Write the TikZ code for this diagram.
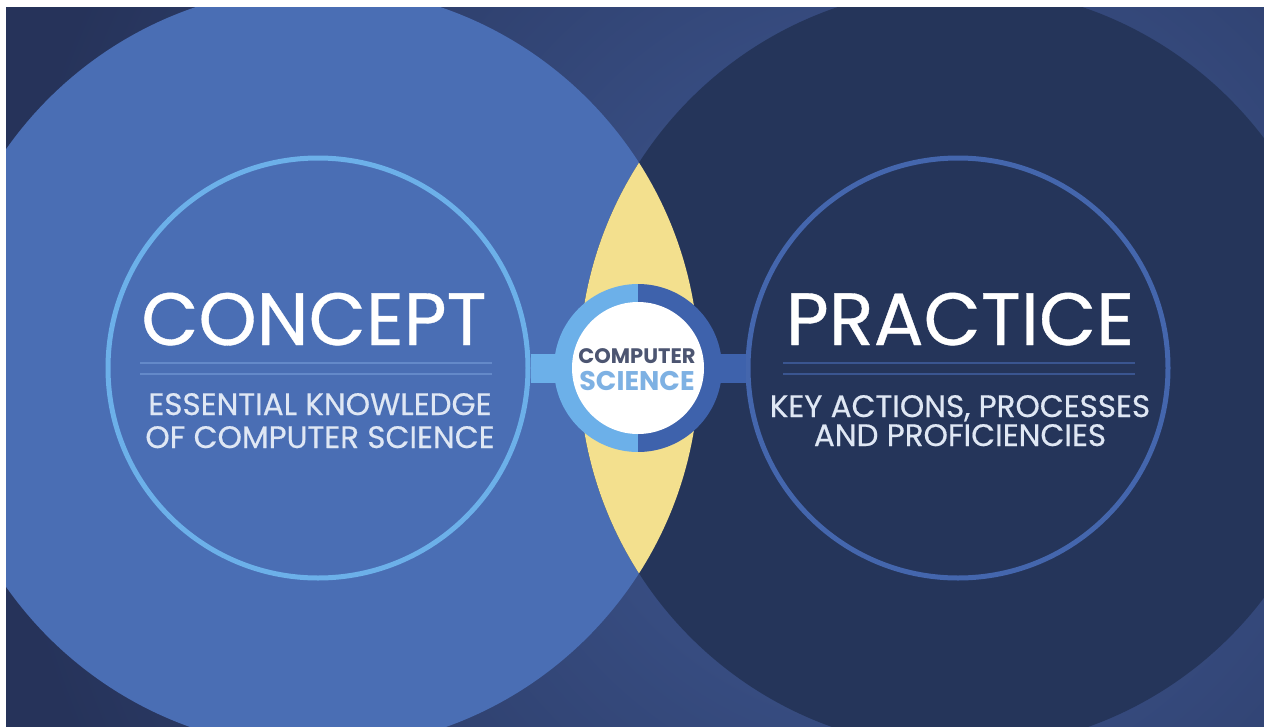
\documentclass[tikz,border=0pt]{standalone}
\usepackage{fontspec}
\setmainfont{Poppins}
\newfontfamily\headfont[FakeBold=0.5]{Poppins}
\usepackage{xcolor}
\usepackage{tikz}

\definecolor{bgdark}{HTML}{26335A}
\definecolor{bgmid}{HTML}{415B97}
\definecolor{conceptblue}{HTML}{4A6EB4}
\definecolor{practicenavy}{HTML}{25355A}
\definecolor{lensyellow}{HTML}{F3E08E}
\definecolor{ringlight}{HTML}{6CB0E9}
\definecolor{ringmid}{HTML}{4466AD}
\definecolor{barmid}{HTML}{3E62AC}
\definecolor{rulelight}{HTML}{6489C9}
\definecolor{ruledark}{HTML}{3A5590}
\definecolor{csgrey}{HTML}{4C5571}
\definecolor{cslight}{HTML}{7EB1E3}
\definecolor{subtext}{HTML}{DFE7F4}

\tikzset{
    ring/.style={circle, minimum size=420pt, line width=5pt, inner sep=0pt},
    bigtitle/.style={text=white, font=\headfont\fontsize{74}{74}\selectfont, anchor=base, inner sep=0pt},
    subtitle/.style={text=subtext, font=\headfont\fontsize{31}{33}\selectfont, anchor=base, inner sep=0pt},
    bar/.style={line width=29pt},
    csdot/.style={circle, minimum size=168pt, inner sep=0pt, outer sep=0pt,
        path picture={
            \fill[ringlight] (path picture bounding box.south west) rectangle (path picture bounding box.north);
            \fill[barmid] (path picture bounding box.north) rectangle (path picture bounding box.south east);
            \fill[white] (path picture bounding box.center) circle (66pt);
        }},
}

\begin{document}
\begin{tikzpicture}[x=1pt, y=-1pt]
        \useasboundingbox (0,0) rectangle (1264,726);
        \fill[white] (0,0) rectangle (1264,726);
        \clip (6,7) rectangle (1272,734);

        % backdrop
        \fill[bgdark] (6,7) rectangle (1272,734);
        \shade[inner color=bgmid, outer color=bgdark] (900,380) circle (900pt);

        % the two big discs and their overlap
        \fill[conceptblue] (318,368) circle (381pt);
        \fill[practicenavy] (960,368) circle (381pt);
        \begin{scope}
            \clip (318,368) circle (381pt);
            \fill[lensyellow] (960,368) circle (381pt);
        \end{scope}

        % rings
        \node[ring, draw=ringlight] (conceptring) at (318,368) {};
        \node[ring, draw=ringmid] (practicering) at (958,368) {};
        \node[csdot] (cs) at (638,368) {};

        \draw[bar, ringlight, shorten >=-4pt] (conceptring.east) -- (cs.west);
        \draw[bar, barmid, shorten <=-4pt] (cs.east) -- (practicering.west);

        % left side
        \node[bigtitle] (concepttitle) at (314,345) {CONCEPT};
        \draw[rulelight, line width=2.5pt] (140,363) -- (492,363);
        \draw[rulelight, line width=2.5pt] (140,374) -- (492,374);
        \node[subtitle] (conceptsubA) at (320,415) {ESSENTIAL KNOWLEDGE};
        \node[subtitle] (conceptsubB) at (320,448) {OF COMPUTER SCIENCE};

        % right side
        \node[bigtitle] (practicetitle) at (960,345) {PRACTICE};
        \draw[ruledark, line width=2.5pt] (783,363) -- (1135,363);
        \draw[ruledark, line width=2.5pt] (783,374) -- (1135,374);
        \node[subtitle] (practicesubA) at (960,417) {KEY ACTIONS, PROCESSES};
        \node[subtitle] (practicesubB) at (960,446) {AND PROFICIENCIES};

        % middle
        \node[anchor=base, inner sep=0pt, text=csgrey, font=\bfseries\fontsize{21}{21}\selectfont] (cscomputer) at (637,363) {COMPUTER};
        \node[anchor=base, inner sep=0pt, text=cslight, font=\bfseries\fontsize{27}{27}\selectfont] (csscience) at (637,390) {SCIENCE};
    \end{tikzpicture}
\end{document}
